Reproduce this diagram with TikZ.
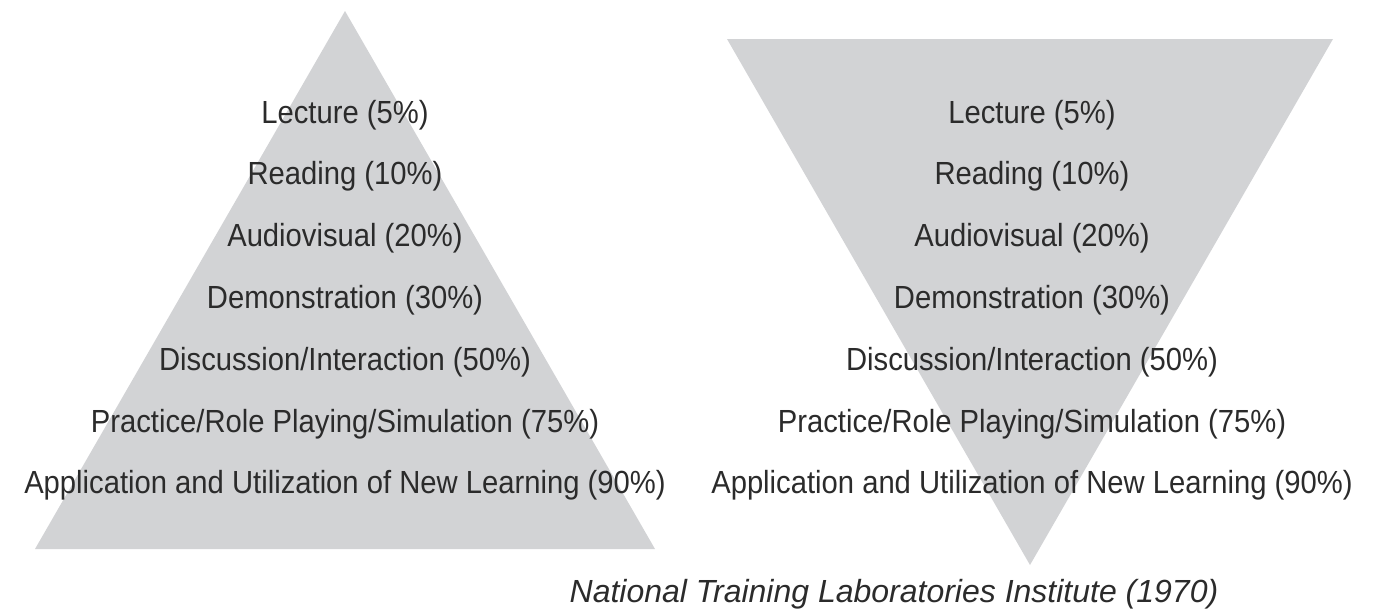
\documentclass[tikz,border=0pt]{standalone}
\usepackage{graphicx}
\usepackage{fontspec}
\setmainfont{Liberation Sans}
% level captions are set slightly narrow
\newcommand{\narrowtext}[1]{\scalebox{0.913}[1]{#1}}
\begin{document}
\begin{tikzpicture}[x=1pt,y=-1pt,
  pyramid/.style={fill=shadegray, draw=none},
  level/.style={text=inkgray, font=\fontsize{32}{36}\selectfont, inner sep=0pt, anchor=base},
  source/.style={text=inkgray, font=\fontsize{32}{36}\selectfont\itshape, inner sep=0pt, anchor=base}]
\definecolor{shadegray}{HTML}{D2D3D5}
\definecolor{inkgray}{HTML}{2B2B2B}
\useasboundingbox (0,0) rectangle (1379,613);
% upright pyramid
\fill[pyramid] (345,11) -- (655,549) -- (35,549) -- cycle;
% inverted pyramid
\fill[pyramid] (727,39) -- (1333,39) -- (1030,565) -- cycle;
% levels, top to bottom
\foreach \t [count=\i] in {Lecture (5\%),Reading (10\%),Audiovisual (20\%),Demonstration (30\%),Discussion/Interaction (50\%),Practice/Role Playing/Simulation (75\%),Application and Utilization of New Learning (90\%)} {
  \node[level] (L\i) at (345,{123+61.8*(\i-1)}) {\narrowtext{\t}};
  \node[level] (R\i) at (1032,{123+61.8*(\i-1)}) {\narrowtext{\t}};
}
\node[source] (src) at (894,602) {National Training Laboratories Institute (1970)};
\end{tikzpicture}
\end{document}
